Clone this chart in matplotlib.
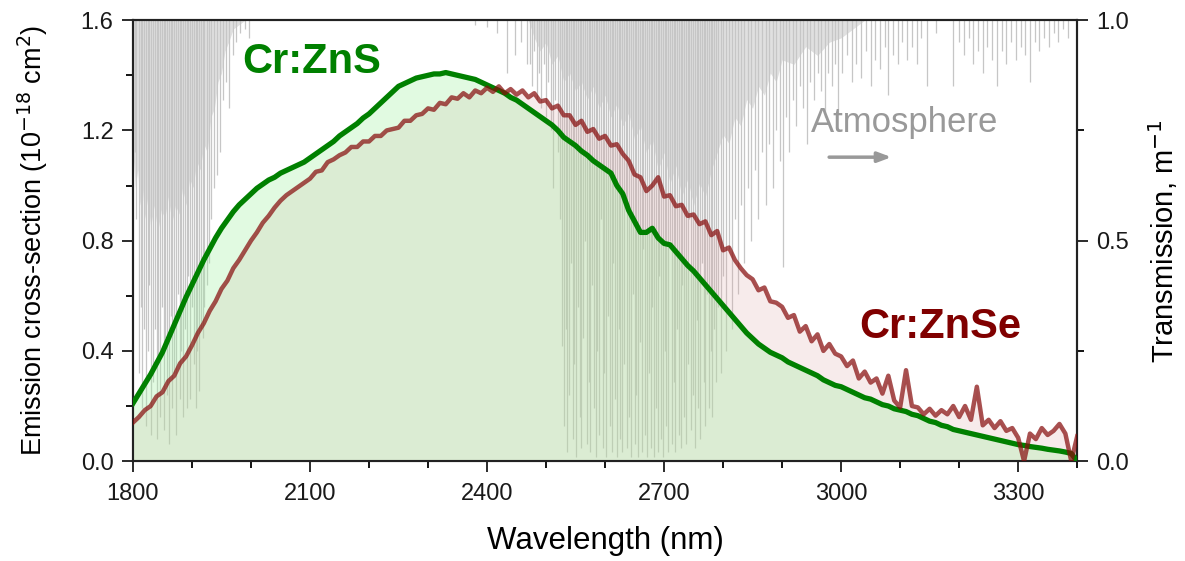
import numpy as np
import matplotlib.pyplot as plt
from matplotlib.ticker import MultipleLocator, FormatStrFormatter

plt.rcParams['font.family'] = ['Liberation Sans', 'DejaVu Sans']

# emission cross-sections, sampled every 10 nm from 1800 to 3400 nm (units 1e-18 cm^2)
wavelength = np.arange(1800, 3401, 10)

cr_zns = [
    0.21, 0.245, 0.28, 0.315, 0.355, 0.395, 0.445, 0.495, 0.545, 0.595,
    0.64, 0.685, 0.73, 0.77, 0.81, 0.845, 0.875, 0.905, 0.93, 0.95,
    0.97, 0.99, 1.005, 1.02, 1.03, 1.045, 1.055, 1.065, 1.075, 1.085,
    1.10, 1.115, 1.13, 1.145, 1.16, 1.18, 1.195, 1.21, 1.225, 1.245,
    1.26, 1.28, 1.30, 1.32, 1.34, 1.36, 1.37, 1.38, 1.39, 1.395,
    1.40, 1.405, 1.405, 1.41, 1.405, 1.40, 1.395, 1.39, 1.385, 1.375,
    1.365, 1.355, 1.345, 1.335, 1.32, 1.31, 1.295, 1.28, 1.265, 1.25,
    1.235, 1.22, 1.20, 1.175, 1.16, 1.145, 1.125, 1.11, 1.09, 1.075,
    1.06, 1.045, 1.00, 0.97, 0.91, 0.87, 0.83, 0.83, 0.845, 0.81,
    0.79, 0.785, 0.76, 0.735, 0.71, 0.69, 0.665, 0.64, 0.615, 0.59,
    0.565, 0.54, 0.515, 0.49, 0.465, 0.445, 0.425, 0.41, 0.395, 0.385,
    0.375, 0.36, 0.35, 0.34, 0.33, 0.32, 0.31, 0.295, 0.285, 0.275,
    0.27, 0.26, 0.25, 0.24, 0.23, 0.225, 0.215, 0.205, 0.20, 0.19,
    0.185, 0.18, 0.17, 0.165, 0.155, 0.145, 0.14, 0.13, 0.125, 0.115,
    0.11, 0.105, 0.10, 0.095, 0.09, 0.085, 0.08, 0.075, 0.07, 0.065,
    0.06, 0.057, 0.053, 0.05, 0.047, 0.043, 0.04, 0.037, 0.033, 0.028,
    0.0,
]

cr_znse = [
    0.14, 0.16, 0.185, 0.20, 0.235, 0.25, 0.29, 0.31, 0.355, 0.38,
    0.42, 0.465, 0.50, 0.545, 0.58, 0.625, 0.655, 0.70, 0.73, 0.765,
    0.80, 0.83, 0.865, 0.89, 0.92, 0.945, 0.965, 0.98, 0.995, 1.01,
    1.025, 1.05, 1.055, 1.085, 1.095, 1.11, 1.12, 1.14, 1.14, 1.16,
    1.16, 1.18, 1.18, 1.20, 1.205, 1.21, 1.235, 1.235, 1.255, 1.26,
    1.28, 1.275, 1.30, 1.295, 1.32, 1.315, 1.335, 1.32, 1.345, 1.335,
    1.355, 1.34, 1.36, 1.335, 1.35, 1.33, 1.345, 1.32, 1.335, 1.305,
    1.31, 1.28, 1.29, 1.255, 1.255, 1.22, 1.235, 1.195, 1.205, 1.17,
    1.18, 1.145, 1.15, 1.115, 1.09, 1.04, 1.03, 0.98, 1.00, 1.03,
    0.96, 0.965, 0.925, 0.93, 0.89, 0.895, 0.86, 0.87, 0.82, 0.835,
    0.765, 0.775, 0.73, 0.70, 0.675, 0.66, 0.62, 0.63, 0.58, 0.575,
    0.56, 0.52, 0.53, 0.47, 0.49, 0.435, 0.46, 0.40, 0.425, 0.39,
    0.38, 0.345, 0.365, 0.30, 0.325, 0.285, 0.30, 0.245, 0.31, 0.22,
    0.195, 0.33, 0.20, 0.195, 0.17, 0.19, 0.165, 0.185, 0.17, 0.20,
    0.16, 0.20, 0.15, 0.27, 0.13, 0.15, 0.12, 0.145, 0.11, 0.12,
    0.085, 0.00, 0.10, 0.08, 0.12, 0.095, 0.11, 0.135, 0.10, 0.0,
    0.09,
]

# atmospheric transmission: dense absorption continuum (lower edge) ...
band_wl = [
    1800, 1804, 1808, 1812, 1816, 1820, 1825, 1830, 1836, 1842, 1848, 1854, 1860, 1866,
    1872, 1878, 1884, 1890, 1896, 1902, 1908, 1914, 1920, 1926, 1932, 1938, 1944, 1950,
    1956, 1962, 1970, 1980, 1990,
    2470, 2480, 2490, 2500, 2510, 2520, 2530, 2540, 2550, 2560, 2570, 2580, 2590, 2600,
    2610, 2620, 2630, 2640, 2650, 2660, 2670, 2680, 2690, 2700, 2710, 2720, 2730, 2740,
    2750, 2760, 2770, 2780, 2790, 2800, 2810, 2820, 2830, 2840, 2850, 2860, 2870, 2880,
    2890, 2900, 2920, 2940, 2960, 2980, 3000, 3020, 3040,
]
band_t = [
    0.70, 0.62, 0.66, 0.58, 0.62, 0.55, 0.60, 0.53, 0.58, 0.52, 0.57, 0.55, 0.60, 0.54,
    0.58, 0.56, 0.62, 0.58, 0.64, 0.62, 0.68, 0.66, 0.72, 0.70, 0.78, 0.80, 0.86, 0.88,
    0.93, 0.95, 0.98, 0.99, 1.0,
    1.0, 0.96, 0.93, 0.95, 0.90, 0.92, 0.86, 0.88, 0.84, 0.86, 0.82, 0.85, 0.80, 0.83,
    0.78, 0.81, 0.76, 0.79, 0.73, 0.76, 0.70, 0.73, 0.66, 0.70, 0.63, 0.67, 0.60, 0.64,
    0.58, 0.63, 0.60, 0.66, 0.70, 0.74, 0.72, 0.78, 0.76, 0.82, 0.80, 0.85, 0.83, 0.88,
    0.86, 0.91, 0.90, 0.94, 0.92, 0.95, 0.96, 0.98, 1.0,
]

# ... and individual absorption lines (centre, minimum transmission)
line_wl = [
    1803, 1806, 1810, 1813, 1816, 1819, 1822, 1825, 1828, 1831, 1834, 1837, 1840, 1843,
    1846, 1849, 1852, 1855, 1858, 1861, 1864, 1867, 1870, 1873, 1876, 1879, 1882, 1885,
    1888, 1891, 1894, 1897, 1900, 1903, 1906, 1909, 1912, 1915, 1918, 1921, 1925, 1929,
    1933, 1937, 1942, 1947, 1952, 1958, 1963, 1969, 1975, 1982, 1990, 1996,
    2380, 2400, 2417, 2434, 2448, 2458, 2468,
    2472, 2476, 2480, 2484, 2488, 2492, 2496, 2500, 2504, 2508, 2512, 2516, 2520, 2524, 2527,
    2530, 2533, 2536, 2539, 2542, 2545, 2548, 2551, 2554, 2557, 2560, 2563, 2566, 2569,
    2572, 2575, 2578, 2581, 2584, 2587, 2590, 2593, 2596, 2599, 2602, 2605, 2608, 2611,
    2614, 2617, 2620, 2623, 2626, 2629, 2632, 2635, 2638, 2641, 2644, 2647, 2650, 2653,
    2656, 2659, 2662, 2665, 2668, 2671, 2674, 2677, 2680, 2683, 2686, 2689, 2692, 2695,
    2698, 2701, 2704, 2707, 2710, 2713, 2716, 2719, 2722, 2725, 2728, 2731, 2734, 2737,
    2740, 2743, 2746, 2749, 2752, 2755, 2758, 2761, 2764, 2767, 2770, 2773, 2776, 2779,
    2782, 2785, 2788, 2792, 2796, 2800, 2805, 2810, 2815, 2820, 2825, 2830, 2836, 2842,
    2848, 2854, 2860, 2866, 2872, 2878, 2884, 2890, 2896, 2901, 2906, 2912, 2918, 2924,
    2930, 2936, 2942, 2948, 2954, 2960, 2966, 2972, 2978, 2984, 2990, 2995, 3002, 3010,
    3018, 3026, 3034, 3042, 3050, 3058, 3066, 3074, 3080, 3088, 3096, 3104, 3112, 3120,
    3128, 3136, 3145, 3160, 3190, 3200, 3208, 3216, 3224, 3232, 3240, 3248, 3256, 3264,
    3272, 3280, 3288, 3296, 3304, 3312, 3320, 3328, 3336, 3344, 3352, 3360, 3368, 3376,
    3384,
]
line_t = [
    0.70, 0.55, 0.20, 0.35, 0.12, 0.30, 0.08, 0.25, 0.40, 0.06, 0.18, 0.30, 0.05, 0.22,
    0.10, 0.35, 0.07, 0.28, 0.15, 0.04, 0.33, 0.12, 0.20, 0.06, 0.38, 0.14, 0.25, 0.10,
    0.30, 0.12, 0.42, 0.14, 0.35, 0.22, 0.12, 0.25, 0.16, 0.30, 0.28, 0.35, 0.40, 0.45,
    0.55, 0.62, 0.65, 0.70, 0.82, 0.86, 0.80, 0.92, 0.95, 0.97, 0.98, 0.96,
    0.99, 0.985, 0.97, 0.88, 0.92, 0.95, 0.90,
    0.90, 0.85, 0.93, 0.82, 0.88, 0.80, 0.90, 0.78, 0.86, 0.75, 0.62, 0.82, 0.70, 0.55, 0.26,
    0.08, 0.30, 0.02, 0.15, 0.45, 0.05, 0.22, 0.01, 0.35, 0.10, 0.03, 0.28, 0.50, 0.04,
    0.18, 0.02, 0.40, 0.12, 0.01, 0.25, 0.06, 0.55, 0.03, 0.20, 0.01, 0.33, 0.08, 0.02,
    0.45, 0.14, 0.01, 0.30, 0.05, 0.02, 0.22, 0.60, 0.03, 0.10, 0.01, 0.38, 0.04, 0.15,
    0.01, 0.27, 0.02, 0.48, 0.06, 0.01, 0.20, 0.03, 0.35, 0.01, 0.12, 0.02, 0.42, 0.05,
    0.01, 0.25, 0.08, 0.02, 0.50, 0.04, 0.18, 0.02, 0.30, 0.06, 0.03, 0.40, 0.10, 0.04,
    0.22, 0.55, 0.07, 0.15, 0.03, 0.32, 0.12, 0.05, 0.45, 0.18, 0.08, 0.38, 0.12, 0.25,
    0.10, 0.30, 0.18, 0.35, 0.20, 0.42, 0.25, 0.48, 0.30, 0.55, 0.38, 0.58, 0.45, 0.62,
    0.50, 0.66, 0.55, 0.70, 0.58, 0.72, 0.62, 0.75, 0.68, 0.44, 0.78, 0.70, 0.82, 0.76,
    0.85, 0.80, 0.72, 0.86, 0.82, 0.88, 0.84, 0.78, 0.88, 0.85, 0.90, 0.79, 0.88, 0.92,
    0.86, 0.90, 0.87, 0.93, 0.85, 0.91, 0.89, 0.94, 0.83, 0.92, 0.90, 0.95, 0.91, 0.94,
    0.90, 0.96, 0.85, 0.97, 0.85, 0.95, 0.92, 0.96, 0.90, 0.93, 0.88, 0.94, 0.91, 0.85,
    0.93, 0.90, 0.95, 0.91, 0.94, 0.92, 0.86, 0.95, 0.93, 0.96, 0.94, 0.97, 0.95, 0.98,
    0.96,
]

fig, ax = plt.subplots(figsize=(11.85, 5.61), dpi=100)
fig.subplots_adjust(left=0.1122, right=0.909, bottom=0.178, top=0.964)
ax2 = ax.twinx()
ax.set_zorder(ax2.get_zorder() + 1)
ax.patch.set_visible(False)

# atmosphere on the right axis, behind the spectra
ax2.fill_between(band_wl, band_t, 1.0, color='#e0e0e0', lw=0)
ax2.vlines(line_wl, line_t, 1.0, color='#c6c6c6', lw=0.9)
ax2.set_ylim(0, 1.0)

ax.fill_between(wavelength, 0, cr_znse, color='#dea5a5', alpha=0.22, lw=0)
ax.fill_between(wavelength, 0, cr_zns, color='#a4f0a4', alpha=0.33, lw=0)
ax.plot(wavelength, cr_zns, color='#008000', lw=3.8, zorder=3)
ax.plot(wavelength, cr_znse, color='#870d0d', lw=3.2, alpha=0.72, zorder=4)

ax.set_xlim(1800, 3400)
ax.set_ylim(0, 1.6)

ax.text(2103, 1.448, 'Cr:ZnS', color='#008000', fontsize=30, fontweight='bold',
        ha='center', va='center')
ax.text(3168, 0.486, 'Cr:ZnSe', color='#800000', fontsize=30, fontweight='bold',
        ha='center', va='center')
ax.text(3108, 1.23, 'Atmosphere', color='#999999', fontsize=25, ha='center', va='center')
ax.annotate('', xy=(3090, 1.103), xytext=(2975, 1.103),
            arrowprops=dict(arrowstyle='-|>,head_length=0.8,head_width=0.3',
                            color='#999999', lw=2.5))

ax.xaxis.set_major_locator(MultipleLocator(300))
ax.xaxis.set_minor_locator(MultipleLocator(100))
ax.yaxis.set_major_locator(MultipleLocator(0.4))
ax.yaxis.set_minor_locator(MultipleLocator(0.2))
ax.yaxis.set_major_formatter(FormatStrFormatter('%.1f'))
ax2.yaxis.set_major_locator(MultipleLocator(0.5))
ax2.yaxis.set_minor_locator(MultipleLocator(0.25))
ax2.yaxis.set_major_formatter(FormatStrFormatter('%.1f'))

for a in (ax, ax2):
    a.tick_params(which='major', direction='out', length=8, width=1.3, labelsize=17,
                  colors='#1a1a1a', pad=6)
    a.tick_params(which='minor', direction='out', length=5, width=1.3)
    for s in a.spines.values():
        s.set_linewidth(1.5)
        s.set_color('#222222')
ax.tick_params(axis='x', which='major', pad=8)

ax.set_xlabel('Wavelength (nm)', fontsize=22.5, labelpad=15)
ax.set_ylabel('Emission cross-section (10$^{-18}$ cm$^2$)', fontsize=19.5, labelpad=22)
ax2.set_ylabel('Transmission, m$^{-1}$', fontsize=21, labelpad=12)

plt.savefig('out.png', dpi=100)
